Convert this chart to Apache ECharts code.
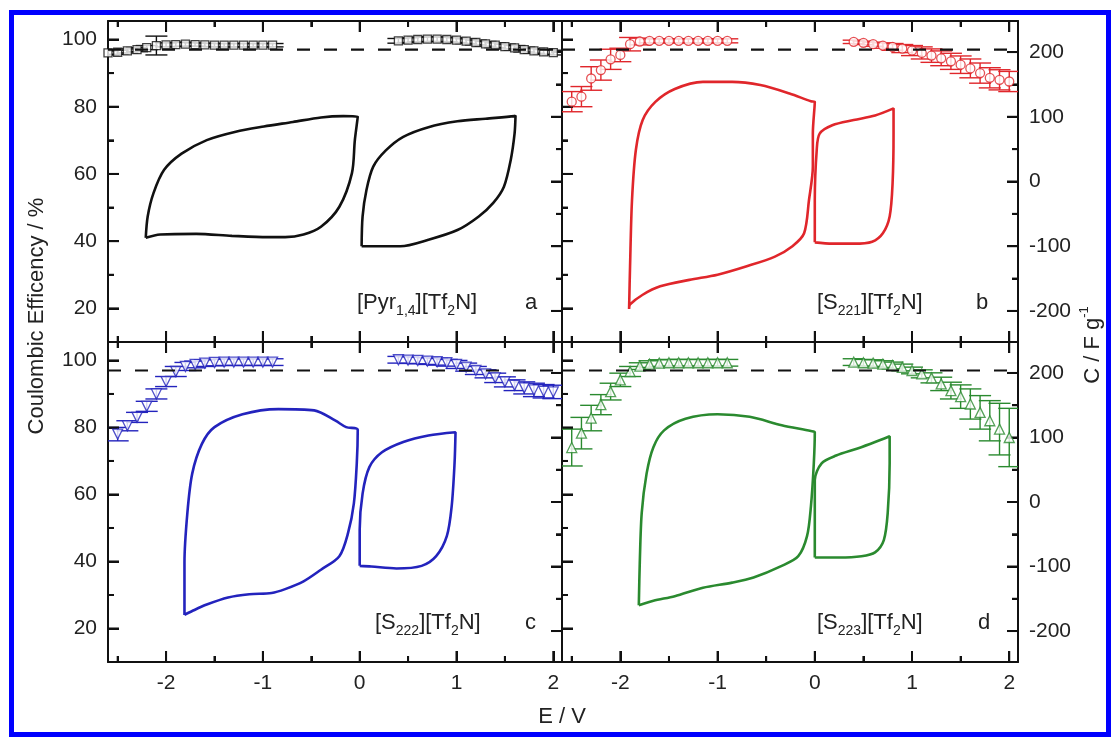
<!DOCTYPE html>
<html>
<head>
<meta charset="utf-8">
<title>Coulombic efficiency and cyclic voltammograms</title>
<script src="https://cdn.jsdelivr.net/npm/echarts@6/dist/echarts.min.js"></script>
<style>
  html, body { margin: 0; padding: 0; background: #fff; }
  #chart { width: 1118px; height: 739px; }
</style>
</head>
<body>
<div id="chart"></div>
<script>
// potential axis range (V) and reference efficiency line (%)
const E_MIN = -2.6;
const E_MAX = 2.09;
const DASH_CE = 97;

// tick positions
const eTicks = [-2, -1, 0, 1, 2];
const eMinor = [-2.5, -1.5, -0.5, 0.5, 1.5];
const ceTicks = [20, 40, 60, 80, 100];
const ceMinor = [30, 50, 70, 90];
const cTicks = [-200, -100, 0, 100, 200];
const cMinor = [-150, -50, 50, 150];

// potentials at which coulombic efficiency was measured (V)
const negE = [-2.6, -2.5, -2.4, -2.3, -2.2, -2.1, -2.0, -1.9, -1.8, -1.7, -1.6, -1.5, -1.4, -1.3, -1.2, -1.1, -1.0, -0.9];
const posE = [0.4, 0.5, 0.6, 0.7, 0.8, 0.9, 1.0, 1.1, 1.2, 1.3, 1.4, 1.5, 1.6, 1.7, 1.8, 1.9, 2.0];

// a  [Pyr14][Tf2N]
const ceA_neg  = [96.0, 96.2, 96.6, 97.0, 97.6, 98.2, 98.4, 98.5, 98.6, 98.5, 98.4, 98.3, 98.3, 98.3, 98.3, 98.3, 98.3, 98.3];
const errA_neg = [0.6, 0.6, 0.6, 0.6, 0.6, 2.8, 0.6, 0.6, 0.6, 0.5, 0.5, 0.5, 0.5, 0.5, 0.5, 0.5, 0.5, 0.5];
const ceA_pos  = [99.6, 99.8, 100.0, 100.1, 100.1, 100.0, 99.8, 99.5, 99.1, 98.7, 98.3, 97.9, 97.5, 97.0, 96.6, 96.3, 96.1];
const errA_pos = [0.7, 0.7, 0.7, 0.7, 0.7, 0.7, 0.7, 0.7, 0.7, 0.7, 0.7, 0.7, 0.7, 0.7, 0.7, 0.7, 0.7];
const cvA_neg = [[-2.21, -87], [-2.19, -54], [-2.13, -18], [-2.02, 18], [-1.84, 43], [-1.58, 64], [-1.28, 77], [-0.99, 85], [-0.69, 92], [-0.40, 99], [-0.17, 101], [-0.02, 100], [-0.05, 64], [-0.08, 13], [-0.21, -39], [-0.40, -70], [-0.58, -82], [-0.77, -86], [-0.95, -86], [-1.32, -84], [-1.69, -81], [-2.06, -82], [-2.21, -87]];
const cvA_pos = [[0.02, -100], [0.03, -54], [0.07, -13], [0.14, 23], [0.27, 48], [0.45, 69], [0.71, 84], [1.01, 93], [1.30, 97], [1.60, 101], [1.61, 102], [1.60, 74], [1.56, 33], [1.49, -8], [1.38, -33], [1.23, -54], [1.01, -75], [0.71, -90], [0.42, -100], [0.16, -100], [0.02, -100]];

// b  [S221][Tf2N]
const ceB_neg  = [null, 81.5, 83.0, 88.4, 90.9, 94.1, 95.4, 98.6, 99.4, 99.6, 99.6, 99.6, 99.6, 99.6, 99.6, 99.6, 99.6, 99.6];
const errB_neg = [null, 3, 3, 3.5, 3, 3, 2, 2, 1, 0.6, 0.6, 0.6, 0.6, 0.6, 0.6, 0.6, 0.6, 0.6];
const ceB_pos  = [99.3, 99.0, 98.6, 98.2, 97.8, 97.3, 96.7, 96.0, 95.2, 94.4, 93.5, 92.5, 91.4, 90.0, 88.6, 88.0, 87.5];
const errB_pos = [0.5, 0.5, 0.6, 0.8, 1, 1.2, 1.5, 1.8, 2, 2.2, 2.4, 2.6, 2.8, 3, 3, 3, 3];
const cvB_neg = [[-1.91, -197], [-1.90, -131], [-1.88, -29], [-1.84, 49], [-1.77, 95], [-1.64, 123], [-1.44, 143], [-1.15, 154], [-0.85, 154], [-0.56, 149], [-0.26, 136], [-0.04, 124], [0.00, 123], [-0.02, 74], [-0.02, 23], [-0.06, -29], [-0.11, -80], [-0.23, -100], [-0.41, -116], [-0.70, -131], [-1.00, -144], [-1.29, -152], [-1.59, -162], [-1.77, -175], [-1.90, -190], [-1.91, -197]];
const cvB_pos = [[0.00, -94], [0.00, -29], [0.02, 49], [0.05, 74], [0.18, 87], [0.40, 95], [0.62, 102], [0.81, 113], [0.81, 74], [0.80, -3], [0.77, -54], [0.70, -80], [0.59, -93], [0.40, -96], [0.18, -96], [0.00, -94]];

// c  [S222][Tf2N]
const ceC_neg  = [null, 78.0, 80.5, 83.0, 86.3, 90.0, 93.7, 96.7, 98.2, 98.8, 99.2, 99.4, 99.5, 99.5, 99.5, 99.5, 99.5, 99.5];
const errC_neg = [null, 2, 1.5, 1.5, 1.5, 1.5, 1.5, 1.5, 1.2, 1, 1, 1, 1, 1, 1, 1, 1, 1];
const ceC_pos  = [100.2, 100.1, 100.0, 99.8, 99.6, 99.3, 98.8, 98.0, 97.0, 96.0, 94.8, 93.6, 92.6, 91.8, 91.2, 90.8, 90.6];
const errC_pos = [1, 1, 1, 1, 1, 1, 1.2, 1.2, 1.2, 1.2, 1.4, 1.5, 1.6, 1.8, 2, 2, 2];
const cvC_neg = [[-1.81, -175], [-1.81, -94], [-1.78, -17], [-1.73, 44], [-1.63, 90], [-1.50, 116], [-1.21, 136], [-0.84, 144], [-0.47, 142], [-0.25, 126], [-0.14, 116], [-0.02, 112], [-0.03, 60], [-0.06, -2], [-0.12, -48], [-0.21, -84], [-0.40, -105], [-0.58, -123], [-0.77, -135], [-0.91, -141], [-1.14, -143], [-1.36, -148], [-1.58, -159], [-1.73, -169], [-1.81, -175]];
const cvC_pos = [[0.00, -99], [0.00, -43], [0.03, 13], [0.10, 54], [0.23, 77], [0.45, 93], [0.71, 103], [0.99, 108], [0.98, 60], [0.95, -7], [0.90, -53], [0.79, -84], [0.64, -99], [0.38, -103], [0.12, -100], [0.00, -99]];

// d  [S223][Tf2N]
const ceD_neg  = [null, 74.0, 78.3, 82.8, 86.8, 90.7, 94.2, 96.7, 98.3, 98.9, 99.2, 99.3, 99.3, 99.3, 99.3, 99.3, 99.3, 99.3];
const errD_neg = [null, 5.5, 4.7, 3.8, 3, 2.5, 2, 1.5, 1, 1, 1, 1, 1, 1, 1, 1, 1, 1];
const ceD_pos  = [99.5, 99.3, 99.2, 98.9, 98.5, 97.9, 97.0, 96.0, 94.8, 93.0, 91.0, 89.2, 87.0, 84.5, 82.0, 79.5, 77.0];
const errD_pos = [1, 1, 1, 1, 1, 1, 1, 1.2, 1.5, 2, 2.5, 3.5, 4.5, 5, 6, 7.7, 8.7];
const cvD_neg = [[-1.81, -160], [-1.80, -94], [-1.78, -17], [-1.73, 44], [-1.66, 85], [-1.55, 111], [-1.33, 129], [-1.00, 136], [-0.67, 132], [-0.34, 119], [-0.04, 110], [0.00, 108], [-0.01, 60], [-0.04, -7], [-0.08, -53], [-0.17, -84], [-0.34, -99], [-0.63, -117], [-0.85, -125], [-1.15, -133], [-1.44, -146], [-1.66, -153], [-1.81, -160]];
const cvD_pos = [[0.00, -86], [0.00, -17], [0.00, 34], [0.07, 60], [0.22, 72], [0.44, 83], [0.62, 93], [0.77, 102], [0.77, 60], [0.75, -17], [0.71, -59], [0.62, -78], [0.48, -84], [0.25, -86], [0.00, -86]];

const FONT = '"Liberation Sans", Arial, Helvetica, sans-serif';
const INK = '#111';

const panels = [
  { ce: [ceA_neg, ceA_pos], err: [errA_neg, errA_pos], cv: [cvA_neg, cvA_pos], color: '#111111', symbol: 'rect', size: 8, rotate: 0 },
  { ce: [ceB_neg, ceB_pos], err: [errB_neg, errB_pos], cv: [cvB_neg, cvB_pos], color: '#e0262b', symbol: 'circle', size: 9, rotate: 0 },
  { ce: [ceC_neg, ceC_pos], err: [errC_neg, errC_pos], cv: [cvC_neg, cvC_pos], color: '#2323bd', symbol: 'triangle', size: 10, rotate: 180 },
  { ce: [ceD_neg, ceD_pos], err: [errD_neg, errD_pos], cv: [cvD_neg, cvD_pos], color: '#2a8a2f', symbol: 'triangle', size: 10, rotate: 0 }
];

const rects = [
  { left: 108, top: 21, width: 454, height: 321 },
  { left: 562, top: 21, width: 456, height: 321 },
  { left: 108, top: 342, width: 454, height: 320 },
  { left: 562, top: 342, width: 456, height: 320 }
];

function frameAxis(pos, gridIndex, min, max, showLabels) {
  return {
    type: 'value', gridIndex, position: pos, min, max, splitNumber: 5,
    axisLine: { show: true, onZero: false, lineStyle: { color: INK, width: 2 } },
    axisTick: { show: true, inside: true, length: 11, lineStyle: { color: INK, width: 2 } },
    minorTick: { show: true, splitNumber: 2, length: 6, lineStyle: { color: INK, width: 2 } },
    axisLabel: {
      show: showLabels, showMinLabel: false, showMaxLabel: false,
      fontSize: 21, color: '#222', fontFamily: FONT, margin: 11
    },
    splitLine: { show: false },
    minorSplitLine: { show: false }
  };
}

const grid = rects.map(r => Object.assign({ containLabel: false }, r));
const xAxis = [];
const yAxis = [];
rects.forEach((r, p) => xAxis.push(frameAxis('bottom', p, E_MIN, E_MAX, p >= 2)));
rects.forEach((r, p) => xAxis.push(frameAxis('top', p, E_MIN, E_MAX, false)));
rects.forEach((r, p) => yAxis.push(frameAxis('left', p, 10, 105.5, p % 2 === 0)));
rects.forEach((r, p) => yAxis.push(frameAxis('right', p, -248, 248, p % 2 === 1)));

function renderErr(params, api) {
  const e = api.value(0), v = api.value(1), d = api.value(2);
  const hi = api.coord([e, v + d]);
  const lo = api.coord([e, v - d]);
  const hw = 11;
  const style = { stroke: api.visual('color'), lineWidth: 1.4 };
  return {
    type: 'group',
    children: [
      { type: 'line', shape: { x1: hi[0], y1: hi[1], x2: lo[0], y2: lo[1] }, style },
      { type: 'line', shape: { x1: hi[0] - hw, y1: hi[1], x2: hi[0] + hw, y2: hi[1] }, style },
      { type: 'line', shape: { x1: lo[0] - hw, y1: lo[1], x2: lo[0] + hw, y2: lo[1] }, style }
    ]
  };
}

// inward frame ticks: item = [x, y, side (0 top+bottom, 1 left, 2 right), major]
function renderTick(params, api) {
  const cs = params.coordSys;
  const side = api.value(2);
  const len = api.value(3) ? 11 : 6;
  const style = { stroke: INK, lineWidth: 2 };
  const pt = api.coord([api.value(0), api.value(1)]);
  if (side === 0) {
    const yb = cs.y + cs.height;
    return {
      type: 'group',
      children: [
        { type: 'line', shape: { x1: pt[0], y1: yb, x2: pt[0], y2: yb - len }, style },
        { type: 'line', shape: { x1: pt[0], y1: cs.y, x2: pt[0], y2: cs.y + len }, style }
      ]
    };
  }
  const x0 = side === 1 ? cs.x : cs.x + cs.width;
  const dir = side === 1 ? 1 : -1;
  return { type: 'line', shape: { x1: x0, y1: pt[1], x2: x0 + dir * len, y2: pt[1] }, style };
}

const series = [];
panels.forEach((pn, p) => {
  // cyclic voltammograms on the capacitance axis
  pn.cv.forEach(loop => {
    series.push({
      type: 'line', xAxisIndex: p, yAxisIndex: 4 + p, data: loop,
      showSymbol: false, smooth: 0.3,
      lineStyle: { color: pn.color, width: 2.6 }
    });
  });
  // 97 % reference line
  series.push({
    type: 'line', xAxisIndex: p, yAxisIndex: p,
    data: [[E_MIN, DASH_CE], [E_MAX, DASH_CE]],
    showSymbol: false,
    lineStyle: { color: INK, width: 2.2, type: [13, 14] }
  });
  // coulombic efficiency with error bars
  [negE, posE].forEach((es, k) => {
    const pts = [];
    es.forEach((e, i) => {
      if (pn.ce[k][i] != null) pts.push([e, pn.ce[k][i], pn.err[k][i]]);
    });
    series.push({
      type: 'custom', xAxisIndex: p, yAxisIndex: p, data: pts, clip: true,
      itemStyle: { color: pn.color }, renderItem: renderErr
    });
    series.push({
      type: 'scatter', xAxisIndex: p, yAxisIndex: p, data: pts.map(d => [d[0], d[1]]), clip: true,
      symbol: pn.symbol, symbolSize: pn.size, symbolRotate: pn.rotate,
      itemStyle: { color: '#fff', borderColor: pn.color, borderWidth: 1.3 }
    });
  });
  // frame ticks
  const xt = eTicks.map(v => [v, 50, 0, 1]).concat(eMinor.map(v => [v, 50, 0, 0]));
  const lt = ceTicks.map(v => [0, v, 1, 1]).concat(ceMinor.map(v => [0, v, 1, 0]));
  const rt = cTicks.map(v => [0, v, 2, 1]).concat(cMinor.map(v => [0, v, 2, 0]));
  series.push({ type: 'custom', xAxisIndex: p, yAxisIndex: p, data: xt.concat(lt), clip: false, renderItem: renderTick });
  series.push({ type: 'custom', xAxisIndex: p, yAxisIndex: 4 + p, data: rt, clip: false, renderItem: renderTick });
});

const rich = {
  m: { fontSize: 22, fontFamily: FONT, fill: '#222', lineHeight: 30 },
  s: { fontSize: 14, fontFamily: FONT, fill: '#222', lineHeight: 10, verticalAlign: 'bottom' },
  u: { fontSize: 13, fontFamily: FONT, fill: '#222', lineHeight: 10, verticalAlign: 'top' }
};

function label(x, y, text) {
  return { type: 'text', x, y, style: { text, rich, align: 'left', verticalAlign: 'middle' } };
}

const graphic = [
  { type: 'rect', shape: { x: 11.5, y: 12.5, width: 1097, height: 722 }, silent: true,
    style: { fill: null, stroke: '#0000ff', lineWidth: 5 } },
  { type: 'text', x: 37, y: 316, rotation: Math.PI / 2,
    style: { text: 'Coulombic Efficency / %', fill: '#222', fontSize: 22, fontFamily: FONT, align: 'center', verticalAlign: 'middle' } },
  { type: 'text', x: 1093, y: 345, rotation: Math.PI / 2,
    style: { text: '{m|C / F g}{u|-1}', rich, align: 'center', verticalAlign: 'middle' } },
  { type: 'text', x: 562, y: 717,
    style: { text: 'E / V', fill: '#222', fontSize: 22, fontFamily: FONT, align: 'center', verticalAlign: 'middle' } },
  label(357, 303, '{m|[Pyr}{s|1,4}{m|][Tf}{s|2}{m|N]}'),
  label(525, 303, '{m|a}'),
  label(817, 303, '{m|[S}{s|221}{m|][Tf}{s|2}{m|N]}'),
  label(976, 303, '{m|b}'),
  label(375, 623, '{m|[S}{s|222}{m|][Tf}{s|2}{m|N]}'),
  label(525, 623, '{m|c}'),
  label(817, 623, '{m|[S}{s|223}{m|][Tf}{s|2}{m|N]}'),
  label(978, 623, '{m|d}')
];

const chart = echarts.init(document.getElementById('chart'));
chart.setOption({
  backgroundColor: '#ffffff',
  animation: false,
  grid, xAxis, yAxis, series, graphic
});
</script>
</body>
</html>
